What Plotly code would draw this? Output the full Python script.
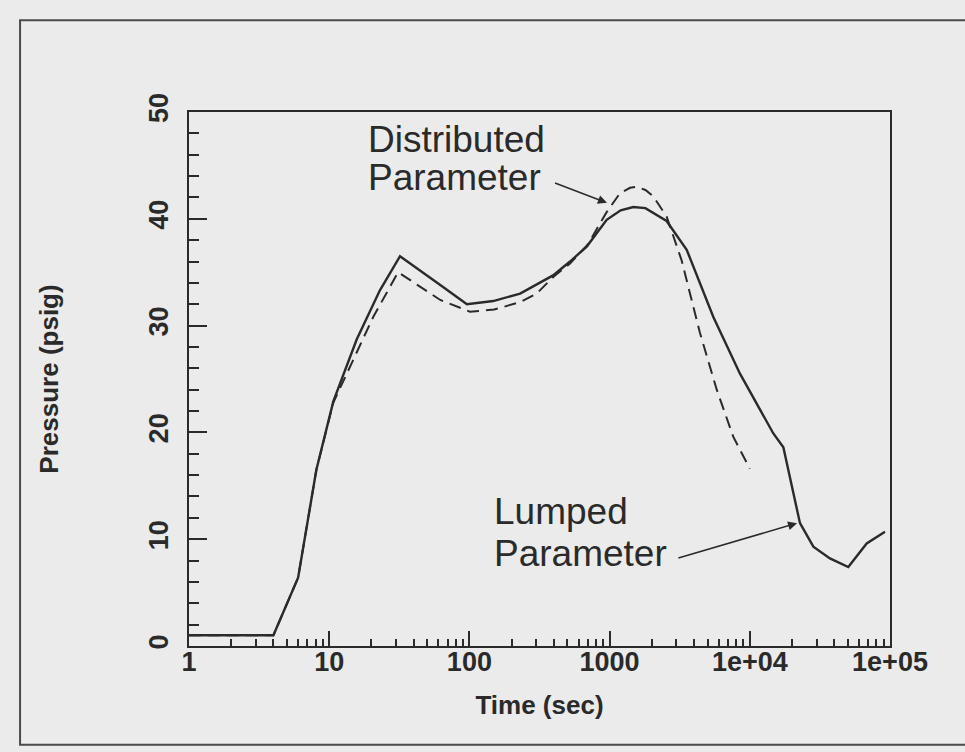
import plotly.graph_objects as go

# ---- data ----
lumped_t = [1, 4.0, 6.0, 8.1, 10.7, 15.7, 23, 32, 62, 96, 148, 230, 395, 522, 687, 953,
            1200, 1476, 1800, 2100, 2550, 3548, 4400, 5495, 8510, 11830, 14720, 17350,
            22800, 28400, 37300, 50400, 68200, 92100]
lumped_p = [1.0, 1.0, 6.4, 16.5, 22.9, 28.7, 33.3, 36.5, 33.8, 32.0, 32.3, 33.0, 34.7,
            36.0, 37.4, 39.9, 40.8, 41.1, 41.0, 40.5, 39.8, 37.1, 34.0, 30.8, 25.5, 22.1,
            19.9, 18.6, 11.5, 9.3, 8.2, 7.4, 9.6, 10.7]

dist_t = [1, 4.0, 6.0, 8.1, 10.7, 17.5, 20.6, 31, 62, 101, 150, 230, 302, 400, 520, 700,
          950, 1186, 1400, 1560, 1800, 2050, 2553, 3265, 4413, 5810, 7620, 10000]
dist_p = [1.0, 1.0, 6.4, 16.5, 22.8, 28.7, 30.8, 35.0, 32.4, 31.3, 31.5, 32.2, 33.0, 34.6,
          35.8, 37.6, 40.6, 42.4, 42.9, 43.0, 42.7, 42.1, 40.2, 36.1, 29.3, 24.0, 19.6,
          16.6]

x_tickvals = [1, 10, 100, 1000, 1e4, 1e5]
x_ticktext = ["1", "10", "100", "1000", "1e+04", "1e+05"]
y_tickvals = [0, 10, 20, 30, 40, 50]
y_ticktext = ["0", "10", "20", "30", "40", "50"]

x_title = "Time (sec)"
y_title = "Pressure (psig)"

INK = "#2a2a2a"
PAPER = "#ebebeb"
SANS = "Liberation Sans, Arial, Helvetica, sans-serif"

fig = go.Figure()
fig.add_trace(go.Scatter(x=dist_t, y=dist_p, mode="lines",
                         line=dict(color=INK, width=2, dash="12px,7px"),
                         name="Distributed Parameter", showlegend=False))
fig.add_trace(go.Scatter(x=lumped_t, y=lumped_p, mode="lines",
                         line=dict(color=INK, width=2.4),
                         name="Lumped Parameter", showlegend=False))

fig.update_layout(
    width=965, height=752,
    margin=dict(l=189, r=75, t=112, b=106),
    paper_bgcolor=PAPER, plot_bgcolor=PAPER,
    showlegend=False,
    font=dict(family=SANS, color=INK),
)

fig.update_xaxes(
    type="log", range=[0, 5],
    tickvals=x_tickvals, ticktext=x_ticktext,
    ticks="inside", ticklen=15, tickwidth=2, tickcolor=INK,
    minor=dict(ticks="inside", ticklen=7, tickwidth=1.5, tickcolor=INK,
               dtick="D1", showgrid=False),
    showline=True, linecolor=INK, linewidth=2, mirror=True,
    showgrid=False, zeroline=False,
    tickfont=dict(family=SANS, size=27, color=INK, weight="bold"),
    ticklabelstandoff=-9,
    title=dict(text=x_title, font=dict(family=SANS, size=26, color=INK, weight="bold"),
               standoff=19),
)
fig.update_yaxes(
    range=[0, 50],
    tickvals=y_tickvals, ticktext=y_ticktext, tickangle=-90,
    ticks="inside", ticklen=18, tickwidth=2, tickcolor=INK,
    minor=dict(ticks="inside", ticklen=10, tickwidth=1.5, tickcolor=INK,
               dtick=2, showgrid=False),
    showline=True, linecolor=INK, linewidth=2, mirror=True,
    showgrid=False, zeroline=False,
    tickfont=dict(family=SANS, size=27, color=INK, weight="bold"),
    ticklabelstandoff=8,
    title=dict(text=y_title, font=dict(family=SANS, size=26, color=INK, weight="bold"),
               standoff=78),
)

# outer scanned-page frame
fig.add_shape(type="rect", xref="paper", yref="paper",
              x0=-0.241, x1=1.12, y0=-0.185, y1=1.172,
              line=dict(color="#4a4a4a", width=2), layer="below")

lab_font = dict(family=SANS, size=37, color=INK)
labels = [
    ("Distributed", 1.265, 47.4),
    ("Parameter", 1.265, 43.9),
    ("Lumped", 2.160, 12.6),
    ("Parameter", 2.160, 8.7),
]
for txt, lx, py in labels:
    fig.add_annotation(x=lx, y=py, xref="x", yref="y", text=txt, showarrow=False,
                       xanchor="left", yanchor="middle", font=lab_font)

arrows = [
    (2.981, 41.5, 2.600, 43.4),
    (4.337, 11.5, 3.480, 8.2),
]
for x1, y1, x0, y0 in arrows:
    fig.add_annotation(x=x1, y=y1, xref="x", yref="y", ax=x0, ay=y0,
                       axref="x", ayref="y", text="", showarrow=True,
                       arrowhead=2, arrowsize=1.2, arrowwidth=1.5, arrowcolor=INK)

fig.write_html("out.html")
